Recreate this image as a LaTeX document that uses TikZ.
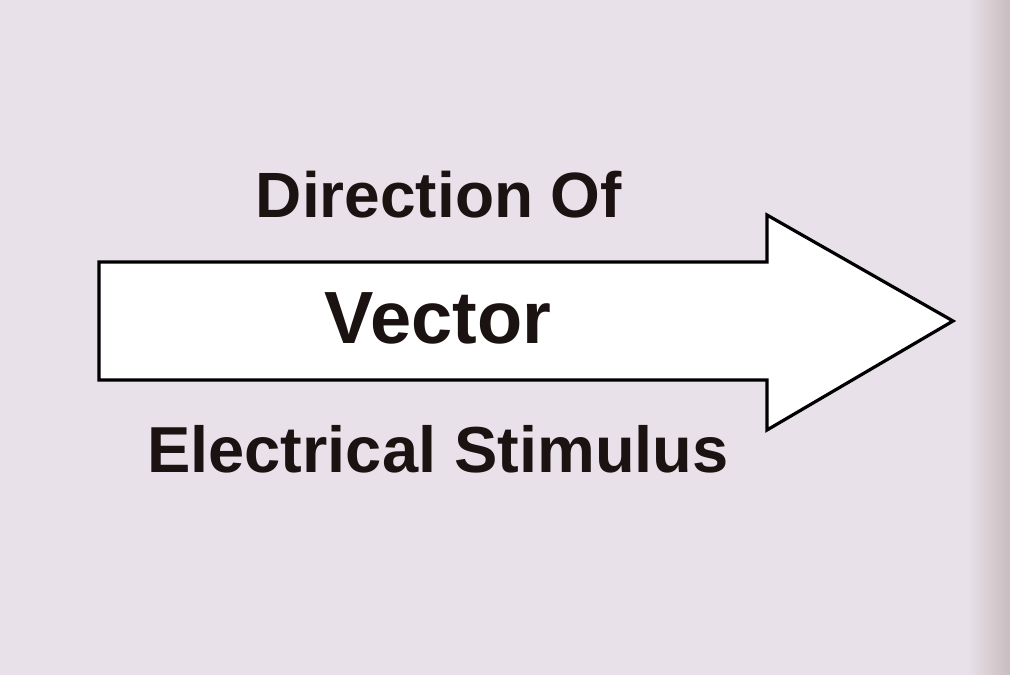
\documentclass[tikz,border=0pt]{standalone}
\usepackage{fontspec}
\setmainfont{Liberation Sans}
\usepackage{tikz}
\usetikzlibrary{positioning}

\definecolor{paper}{HTML}{E8E1E9}
\definecolor{edge}{HTML}{C9BCBE}
\definecolor{ink}{HTML}{1B1212}

\begin{document}
\begin{tikzpicture}[x=1pt,y=-1pt]

	\tikzset{
		caption/.style={
				text=ink, font=\bfseries, inner sep=0pt, anchor=base
			},
		bigarrow/.style={
				draw=black, fill=white, line width=3.2pt, line join=miter
			},
	}
	\useasboundingbox (0,0) rectangle (1010,675);
	\fill[paper] (0,0) rectangle (1010,675);
	\shade[left color=paper, right color=edge] (968,0) rectangle (1010,675);

	% arrow body and head
	\coordinate (tip) at (953,321);
	\draw[bigarrow] (99,262) -- (767,262) -- (767,215) -- (tip)
		-- (767,430) -- (767,380) -- (99,380) -- cycle;

	\node[caption, font=\bfseries\fontsize{64}{70}\selectfont] (dir) at (439,217) {Direction Of};
	\node[caption, font=\bfseries\fontsize{74}{80}\selectfont] (vec) at (438,343) {Vector};
	\node[caption, font=\bfseries\fontsize{65}{72}\selectfont] (stim) at (438,472) {Electrical Stimulus};

\end{tikzpicture}
\end{document}
